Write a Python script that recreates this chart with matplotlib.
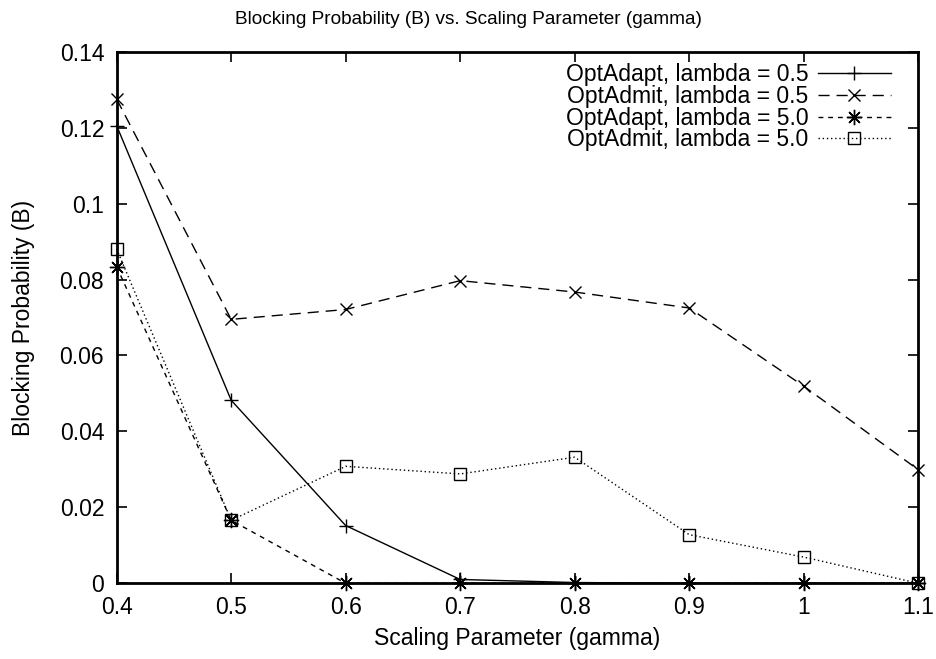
import matplotlib
matplotlib.use("Agg")
import matplotlib.pyplot as plt
from matplotlib.ticker import FuncFormatter, MultipleLocator

# data
gamma = [0.4, 0.5, 0.6, 0.7, 0.8, 0.9, 1.0, 1.1]
adapt_05 = [0.1205, 0.0482, 0.0152, 0.0010, 0.0002, 0.0, 0.0, 0.0]
admit_05 = [0.1275, 0.0695, 0.0721, 0.0797, 0.0767, 0.0725, 0.0519, 0.0299]
adapt_50 = [0.0834, 0.0166, 0.0, 0.0, 0.0, 0.0, 0.0, 0.0]
admit_50 = [0.0880, 0.0166, 0.0308, 0.0288, 0.0332, 0.0128, 0.0069, 0.0]

labels = ["OptAdapt, lambda = 0.5", "OptAdmit, lambda = 0.5",
          "OptAdapt, lambda = 5.0", "OptAdmit, lambda = 5.0"]

plt.rcParams['font.family'] = ['Liberation Sans', 'DejaVu Sans']

fig = plt.figure(figsize=(9.37, 6.59), dpi=100)
ax = fig.add_axes([0.1245, 0.1149, 0.9800 - 0.1245, 0.9216 - 0.1149])

lw = 1.0
ax.plot(gamma, adapt_05, color='black', lw=lw, ls='-', marker='+', ms=10,
        mew=1.0, label=labels[0], clip_on=False)
ax.plot(gamma, admit_05, color='black', lw=lw, ls=(0, (8, 5)), marker='x', ms=8,
        mew=1.0, label=labels[1], clip_on=False)
ax.plot(gamma, adapt_50, color='black', lw=lw, ls=(0, (3.5, 3.5)), marker=(8, 2, 0),
        ms=11, mew=1.0, label=labels[2], clip_on=False)
ax.plot(gamma, admit_50, color='black', lw=lw, ls=(0, (1, 2)), marker='s', ms=8,
        mew=1.0, mfc='none', label=labels[3], clip_on=False)

ax.set_xlim(0.4, 1.1)
ax.set_ylim(0, 0.14)
ax.xaxis.set_major_locator(MultipleLocator(0.1))
ax.yaxis.set_major_locator(MultipleLocator(0.02))
fmt = FuncFormatter(lambda v, p: "%g" % round(v, 4))
ax.xaxis.set_major_formatter(fmt)
ax.yaxis.set_major_formatter(fmt)

ax.tick_params(direction='in', length=7, width=1.2, top=True, right=True,
               labelsize=16.5, pad=9)
for s in ax.spines.values():
    s.set_linewidth(2)

ax.set_xlabel("Scaling Parameter (gamma)", fontsize=16.5, labelpad=6)
ax.set_ylabel("Blocking Probability (B)", fontsize=16.5, labelpad=18)
fig.suptitle("Blocking Probability (B) vs. Scaling Parameter (gamma)",
             fontsize=13.7, x=0.5, y=1 - 19 / 659, va='center')

leg = ax.legend(loc='upper right', frameon=False, markerfirst=False,
                fontsize=16.5, handlelength=3.2, handletextpad=0.4,
                labelspacing=-0.05, borderaxespad=0,
                bbox_to_anchor=(1 - 18 / 801, 1 - 2 / 531))

fig.savefig("out.png", dpi=100)
